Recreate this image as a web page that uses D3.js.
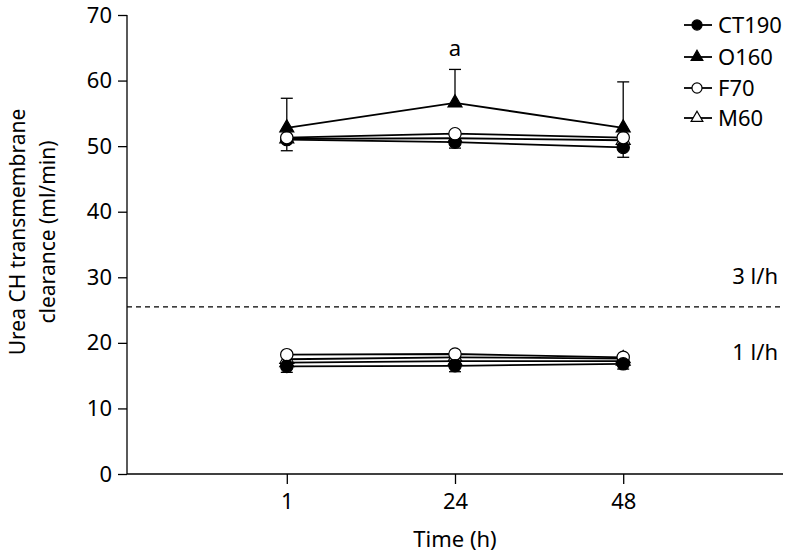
<!DOCTYPE html>
<html><head><meta charset="utf-8">
<script src="https://cdn.jsdelivr.net/npm/d3@7"></script>
<style>body{margin:0;background:#fff}svg{display:block}</style>
</head><body><svg id="c" width="789" height="554"></svg>
<script>
const times = ["1", "24", "48"];
const yTicks = [0, 10, 20, 30, 40, 50, 60, 70];
const seriesNames = ["CT190", "O160", "F70", "M60"];
// 3 l/h (upper) values
const ct190_3 = [51.0, 50.6, 49.8];
const o160_3  = [52.8, 56.6, 52.8];
const f70_3   = [51.3, 51.9, 51.3];
const m60_3   = [51.1, 51.2, 50.9];
// 1 l/h (lower) values
const ct190_1 = [16.4, 16.5, 16.8];
const o160_1  = [17.0, 17.2, 17.2];
const f70_1   = [18.2, 18.3, 17.8];
const m60_1   = [17.5, 17.8, 17.6];
// error bars (SD)
const ct190_3_sd = [1.7, 0.9, 1.5];
const o160_3_sd  = [4.5, 5.1, 7.0];
const ct190_1_sd = [0.9, 0.9, 0.8];
const dashedValue = 25.5;

const svg = d3.select("#c");
const font = "'Noto Sans', sans-serif";
const fs = 22;
const x = d3.scalePoint().domain(times).range([127, 783]).padding(0.95);
const y = d3.scaleLinear().domain([0, 70]).range([474, 15]);

// axes
const ya = svg.append("g").attr("transform", "translate(127,0)")
  .call(d3.axisLeft(y).tickValues(yTicks).tickSize(9).tickPadding(6));
const xa = svg.append("g").attr("transform", "translate(0,474)")
  .call(d3.axisBottom(x).tickSize(10).tickPadding(9));
[ya, xa].forEach(a => {
  a.select(".domain").attr("stroke", "#000").attr("stroke-width", 1.3);
  a.selectAll(".tick line").attr("stroke", "#000").attr("stroke-width", 1.3);
  a.selectAll("text").attr("font-family", font).attr("font-size", fs).attr("fill", "#000");
});
ya.select(".domain").attr("d", "M0,474V15");
xa.select(".domain").attr("d", "M127,0H783");

// dashed line
svg.append("line").attr("x1", 127).attr("x2", 783)
  .attr("y1", y(dashedValue)).attr("y2", y(dashedValue))
  .attr("stroke", "#000").attr("stroke-width", 1.2).attr("stroke-dasharray", "5,4");
svg.append("text").attr("x", 778).attr("y", 284).attr("text-anchor", "end")
  .attr("font-family", font).attr("font-size", fs).text("3 l/h");
svg.append("text").attr("x", 778).attr("y", 360).attr("text-anchor", "end")
  .attr("font-family", font).attr("font-size", fs).text("1 l/h");

// axis titles
const yt = svg.append("text").attr("transform", "translate(0,232) rotate(-90)")
  .attr("text-anchor", "middle").attr("font-family", font).attr("font-size", 21);
yt.append("tspan").attr("x", 0).attr("y", 25).text("Urea CH transmembrane");
yt.append("tspan").attr("x", 0).attr("y", 55).text("clearance (ml/min)");
svg.append("text").attr("x", 455).attr("y", 547).attr("text-anchor", "middle")
  .attr("font-family", font).attr("font-size", fs).text("Time (h)");

// "a" annotation
svg.append("text").attr("x", x("24")).attr("y", 56).attr("text-anchor", "middle")
  .attr("font-family", font).attr("font-size", fs).text("a");

const circ = d3.symbol().type(d3.symbolCircle).size(120);
const tri = d3.symbol().type(d3.symbolTriangle).size(85);
const circL = d3.symbol().type(d3.symbolCircle).size(80);
const triL = d3.symbol().type(d3.symbolTriangle).size(60);
const styles = {
  CT190: {sym: circ, leg: circL, fill: "#000"},
  O160: {sym: tri, leg: triL, fill: "#000"},
  F70: {sym: circ, leg: circL, fill: "#fff"},
  M60: {sym: tri, leg: triL, fill: "#fff"}
};
const line = d3.line().x((d, i) => x(times[i])).y(d => y(d));

function errBars(vals, sds, dir) {
  vals.forEach((v, i) => {
    const cx = x(times[i]), y2 = y(v + dir * sds[i]);
    svg.append("line").attr("x1", cx).attr("x2", cx).attr("y1", y(v)).attr("y2", y2)
      .attr("stroke", "#000").attr("stroke-width", 1.3);
    svg.append("line").attr("x1", cx - 6).attr("x2", cx + 6).attr("y1", y2).attr("y2", y2)
      .attr("stroke", "#000").attr("stroke-width", 1.3);
  });
}
errBars(o160_3, o160_3_sd, 1);
errBars(ct190_3, ct190_3_sd, -1);
errBars(ct190_1, ct190_1_sd, -1);

function drawSeries(name, vals) {
  const st = styles[name];
  svg.append("path").attr("d", line(vals)).attr("fill", "none")
    .attr("stroke", "#000").attr("stroke-width", 1.8);
  vals.forEach((v, i) => {
    svg.append("path").attr("d", st.sym())
      .attr("transform", `translate(${x(times[i])},${y(v)})`)
      .attr("fill", st.fill).attr("stroke", "#000").attr("stroke-width", 1.2);
  });
}
[["M60", m60_1], ["O160", o160_1], ["F70", f70_1], ["CT190", ct190_1],
 ["M60", m60_3], ["CT190", ct190_3], ["F70", f70_3], ["O160", o160_3]]
  .forEach(([n, v]) => drawSeries(n, v));

// legend
const legY = [25, 57, 88, 118];
seriesNames.forEach((n, i) => {
  const g = svg.append("g").attr("transform", `translate(0,${legY[i]})`);
  g.append("line").attr("x1", 684).attr("x2", 712).attr("stroke", "#000").attr("stroke-width", 1.8);
  g.append("path").attr("d", styles[n].leg()).attr("transform", "translate(697,0)")
    .attr("fill", styles[n].fill).attr("stroke", "#000").attr("stroke-width", 1.2);
  g.append("text").attr("x", 718).attr("y", 8).attr("font-family", font)
    .attr("font-size", fs).text(n);
});
</script></body></html>
